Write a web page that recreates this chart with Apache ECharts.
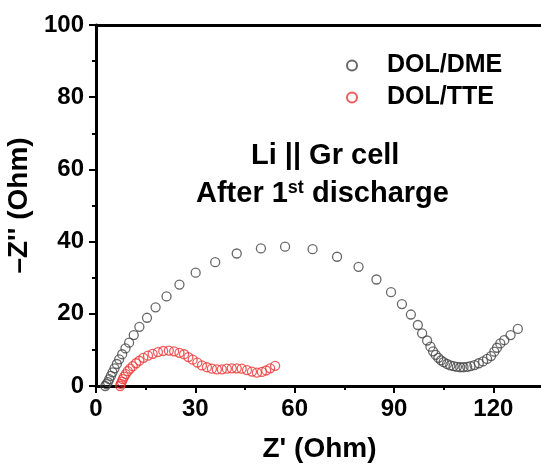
<!DOCTYPE html>
<html lang="en">
<head>
  <meta charset="UTF-8">
  <title>Li || Gr cell EIS</title>
  <script src="https://cdn.jsdelivr.net/npm/echarts@6/dist/echarts.min.js"></script>
  <style>
    html, body { margin: 0; padding: 0; background: #fff; }
    #main { width: 541px; height: 466px; }
  </style>
</head>
<body>
  <div id="main"></div>
  <script>
    // Z' / -Z'' (Ohm)
    var dmeX = [2.8, 3.2, 3.6, 4.0, 4.5, 5.0, 5.6, 6.3, 7.0, 7.9, 8.9, 10.0, 11.4, 13.1, 15.4, 18.0, 21.3, 25.2, 30.1, 36.0, 42.5, 49.8, 57.1, 65.4, 72.8, 79.3, 84.7, 89.1, 92.4, 95.1, 97.2, 98.5, 100.0, 101.0, 101.8, 102.6, 103.4, 104.2, 105.0, 106.0, 107.0, 108.0, 109.0, 110.0, 111.0, 112.1, 113.1, 114.3, 115.6, 116.9, 118.1, 119.3, 120.3, 121.1, 122.1, 123.3, 125.2, 127.4];
    var dmeY = [0.0, 0.5, 1.1, 1.9, 2.8, 3.8, 4.9, 6.1, 7.4, 8.8, 10.4, 12.0, 14.1, 16.4, 18.9, 21.8, 24.8, 28.1, 31.4, 34.3, 36.7, 38.1, 38.6, 37.9, 35.8, 33.0, 29.5, 26.0, 22.7, 19.8, 16.9, 14.6, 12.6, 10.9, 9.6, 8.6, 7.8, 7.1, 6.6, 6.1, 5.7, 5.5, 5.3, 5.2, 5.2, 5.3, 5.5, 5.8, 6.3, 6.8, 7.5, 8.3, 9.5, 10.6, 11.8, 12.7, 14.1, 15.8];

    var tteX = [7.3, 7.5, 7.8, 8.1, 8.5, 9.0, 9.6, 10.3, 11.1, 12.1, 13.1, 14.3, 15.7, 17.1, 18.7, 20.3, 22.0, 23.6, 25.2, 26.6, 27.9, 29.2, 30.6, 32.0, 33.5, 35.0, 36.5, 38.0, 39.5, 41.0, 42.5, 44.0, 45.6, 47.1, 48.6, 50.1, 51.4, 52.6, 54.1];
    var tteY = [0.0, 0.6, 1.2, 1.9, 2.6, 3.3, 4.1, 4.8, 5.5, 6.3, 7.0, 7.8, 8.4, 8.9, 9.4, 9.7, 9.8, 9.6, 9.2, 8.8, 8.0, 7.3, 6.5, 5.7, 5.2, 4.8, 4.6, 4.6, 4.8, 4.9, 4.9, 4.8, 4.4, 4.0, 3.7, 3.9, 4.3, 4.9, 5.6];

    var xTicks = [0, 30, 60, 90, 120];
    var yTicks = [0, 20, 40, 60, 80, 100];

    function pairs(xs, ys) {
      return xs.map(function (x, i) { return [x, ys[i]]; });
    }

    var font = '"Liberation Sans", Arial, sans-serif';
    var myChart = echarts.init(document.getElementById('main'));

    var option = {
      animation: false,
      backgroundColor: '#fff',
      textStyle: { fontFamily: font },
      grid: {
        left: 96, top: 25, width: 447, height: 361,
        containLabel: false, outerBoundsMode: 'none'
      },
      legend: {
        orient: 'vertical',
        left: 341, top: 48,
        itemWidth: 10, itemHeight: 10,
        itemGap: 7,
        textStyle: {
          fontFamily: font, fontSize: 25, fontWeight: 'bold', color: '#000',
          padding: [0, 0, 0, 25]
        },
        data: ['DOL/DME', 'DOL/TTE']
      },
      xAxis: [{
        type: 'value',
        min: 0, max: 135, interval: 30,
        name: "Z' (Ohm)",
        nameLocation: 'middle',
        nameGap: 49,
        nameTextStyle: { fontFamily: font, fontSize: 28, fontWeight: 'bold', color: '#000' },
        axisLine: { show: true, onZero: false, lineStyle: { color: '#000', width: 3 } },
        axisTick: { show: true, inside: false, length: 7, lineStyle: { color: '#000', width: 2 } },
        minorTick: { show: true, splitNumber: 2, length: 4, lineStyle: { color: '#000', width: 2 } },
        axisLabel: {
          fontFamily: font, fontSize: 24, fontWeight: 'bold', color: '#000', margin: 11,
          formatter: function (v) { return xTicks.indexOf(v) >= 0 ? String(v) : ''; }
        },
        splitLine: { show: false }
      }, {
        type: 'value',
        position: 'top',
        min: 0, max: 135,
        axisLine: { show: true, onZero: false, lineStyle: { color: '#000', width: 3 } },
        axisTick: { show: false },
        axisLabel: { show: false },
        splitLine: { show: false }
      }],
      yAxis: {
        type: 'value',
        min: 0, max: 100, interval: 20,
        name: "–Z'' (Ohm)",
        nameLocation: 'middle',
        nameGap: 54,
        nameTextStyle: { fontFamily: font, fontSize: 28, fontWeight: 'bold', color: '#000' },
        axisLine: { show: true, onZero: false, lineStyle: { color: '#000', width: 3 } },
        axisTick: { show: true, inside: false, length: 7, lineStyle: { color: '#000', width: 2 } },
        minorTick: { show: true, splitNumber: 2, length: 4, lineStyle: { color: '#000', width: 2 } },
        axisLabel: {
          fontFamily: font, fontSize: 24, fontWeight: 'bold', color: '#000', margin: 12,
          formatter: function (v) { return yTicks.indexOf(v) >= 0 ? String(v) : ''; }
        },
        splitLine: { show: false }
      },
      graphic: [{
        type: 'text',
        left: 251, top: 141,
        style: { text: 'Li || Gr cell', fontFamily: font, fontSize: 29, fontWeight: 'bold', fill: '#000' }
      }, {
        type: 'text',
        left: 196, top: 179,
        style: {
          text: '{a|After 1}{s|st}{a| discharge}',
          fontFamily: font,
          rich: {
            a: { fontFamily: font, fontSize: 29, fontWeight: 'bold', fill: '#000', color: '#000' },
            s: { fontFamily: font, fontSize: 18, fontWeight: 'bold', fill: '#000', color: '#000', verticalAlign: 'top', padding: [0, 0, 12, 0] }
          }
        }
      }],
      series: [{
        name: 'DOL/DME',
        type: 'scatter',
        symbol: 'circle',
        symbolSize: 9,
        clip: true,
        itemStyle: { color: 'rgba(255,255,255,0)', borderColor: '#444444', borderWidth: 1.3 },
        data: pairs(dmeX, dmeY)
      }, {
        name: 'DOL/TTE',
        type: 'scatter',
        symbol: 'circle',
        symbolSize: 9,
        clip: true,
        itemStyle: { color: 'rgba(255,255,255,0)', borderColor: '#ee3333', borderWidth: 1.3 },
        data: pairs(tteX, tteY)
      }]
    };

    myChart.setOption(option);
  </script>
</body>
</html>
